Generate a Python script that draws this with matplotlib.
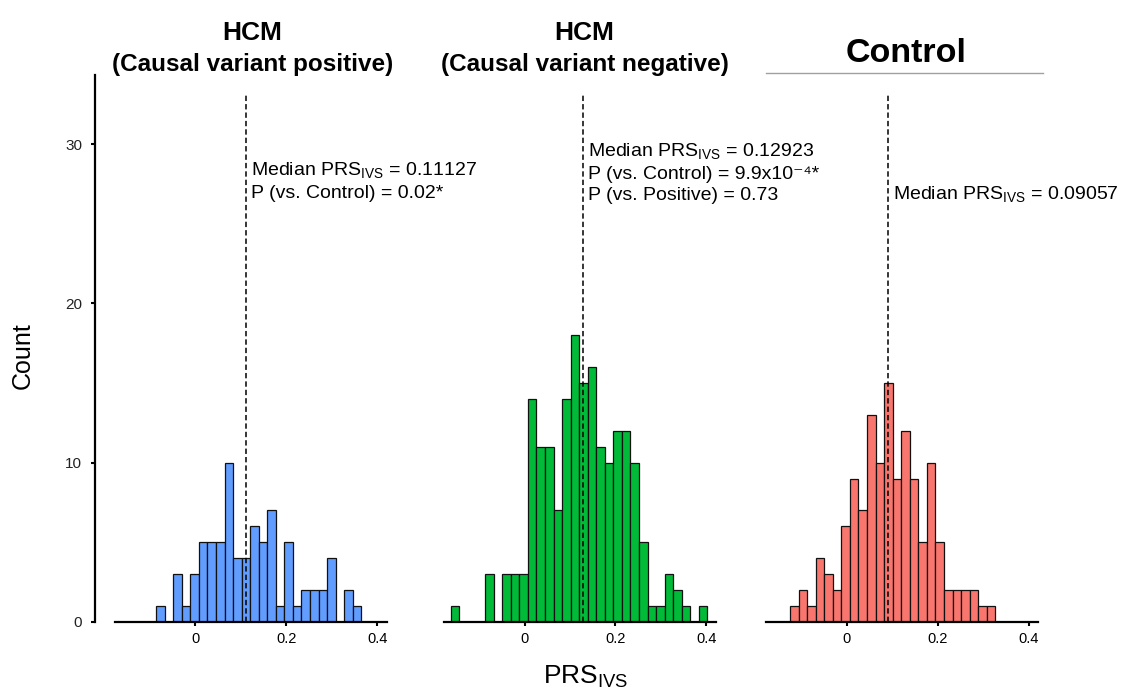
import numpy as np
import matplotlib
matplotlib.use("Agg")
import matplotlib.pyplot as plt
from matplotlib.lines import Line2D

plt.rcParams['font.family'] = ['Liberation Sans', 'DejaVu Sans']
plt.rcParams['mathtext.fontset'] = 'custom'
plt.rcParams['mathtext.rm'] = 'Liberation Sans'

# --- data ---
BIN_START = -0.1618
BIN_WIDTH = 0.0188

counts_positive = [0, 0, 0, 0, 1, 0, 3, 1, 3, 5, 5, 5, 10, 4, 4, 6, 5, 7, 1, 5,
                   1, 2, 2, 2, 4, 0, 2, 1]
counts_negative = [1, 0, 0, 0, 3, 0, 3, 3, 3, 14, 11, 11, 7, 14, 18, 15, 16, 11,
                   10, 12, 12, 10, 5, 1, 1, 3, 2, 1, 0, 1]
counts_control = [0, 0, 1, 2, 1, 4, 3, 2, 6, 9, 7, 13, 10, 15, 9, 12, 9, 5, 10,
                  5, 2, 2, 2, 2, 1, 1]

medians = [0.11127, 0.12923, 0.09057]
colors = ["#619CFF", "#00BA38", "#F8766D"]

ann_positive = ["Median PRS$_{\\mathregular{IVS}}$ = 0.11127",
                "P (vs. Control) = 0.02*"]
ann_negative = ["Median PRS$_{\\mathregular{IVS}}$ = 0.12923",
                "P (vs. Control) = 9.9x10\u207b\u2074*",
                "P (vs. Positive) = 0.73"]
ann_control = ["Median PRS$_{\\mathregular{IVS}}$ = 0.09057"]

xticks = [0, 0.2, 0.4]
xtick_labels = ["0", "0.2", "0.4"]
yticks = [0, 10, 20, 30]

# --- layout ---
fig = plt.figure(figsize=(11.26, 6.91), dpi=100)
lefts = [0.1021, 0.3943, 0.6803]
bottom, width, height = 0.0999, 0.2416, 0.7916
ann_first_y = [28.0, 29.21, 26.49]   # baseline of first text line (counts)
LINE_STEP = 1.37

all_counts = [counts_positive, counts_negative, counts_control]
all_ann = [ann_positive, ann_negative, ann_control]

for i in range(3):
    ax = fig.add_axes([lefts[i], bottom, width, height])
    counts = np.array(all_counts[i])
    edges = BIN_START + BIN_WIDTH * np.arange(len(counts))
    keep = counts > 0
    ax.bar(edges[keep], counts[keep], width=BIN_WIDTH, align='edge',
           color=colors[i], edgecolor='#111111', linewidth=0.9, zorder=2)
    ax.vlines(medians[i], 0, 33.1, colors='black', linewidth=1.1,
              linestyles=(0, (3.5, 2)), zorder=3)

    for k, line in enumerate(all_ann[i]):
        ax.annotate(line, xy=(medians[i], ann_first_y[i] - k * LINE_STEP),
                    xytext=(3.5, 0), textcoords='offset points',
                    ha='left', va='baseline', fontsize=14,
                    annotation_clip=False)

    ax.set_xlim(-0.177, 0.421)
    ax.set_ylim(0, 34.34)
    ax.set_xticks(xticks)
    ax.set_xticklabels(xtick_labels)
    ax.tick_params(axis='x', direction='out', length=3, width=1.5,
                   labelsize=10.5, pad=4)
    for s in ['top', 'right']:
        ax.spines[s].set_visible(False)
    ax.spines['bottom'].set_linewidth(1.6)
    ax.patch.set_visible(False)

    if i == 0:
        ax.spines['left'].set_position(('outward', 14.5))
        ax.spines['left'].set_linewidth(1.6)
        ax.set_yticks(yticks)
        ax.tick_params(axis='y', direction='out', length=3, width=1.5,
                       labelsize=11, pad=6, labelcolor='#222222')
    else:
        ax.spines['left'].set_visible(False)
        ax.set_yticks([])

# --- titles ---
fig.text(252.5 / 1126, 1 - 40 / 691, "HCM", ha='center', va='baseline',
         fontsize=19, fontweight='bold')
fig.text(252.5 / 1126, 1 - 71 / 691, "(Causal variant positive)", ha='center',
         va='baseline', fontsize=17.5, fontweight='bold')
fig.text(584.5 / 1126, 1 - 40 / 691, "HCM", ha='center', va='baseline',
         fontsize=19, fontweight='bold')
fig.text(584.5 / 1126, 1 - 71 / 691, "(Causal variant negative)", ha='center',
         va='baseline', fontsize=17.5, fontweight='bold')
fig.text(906 / 1126, 1 - 61.7 / 691, "Control", ha='center', va='baseline',
         fontsize=24.5, fontweight='bold')
fig.add_artist(Line2D([766 / 1126, 1043 / 1126], [1 - 73.3 / 691, 1 - 73.3 / 691],
                      color='#a0a0a0', linewidth=1.0, transform=fig.transFigure))

# --- axis labels ---
fig.text(23 / 1126, 1 - 356 / 691, "Count", rotation=90, ha='center',
         va='center', fontsize=18)
fig.text(586 / 1126, 1 - 683 / 691, "PRS$_{\\mathregular{IVS}}$", ha='center',
         va='baseline', fontsize=19)

fig.savefig("out.png", dpi=100)
